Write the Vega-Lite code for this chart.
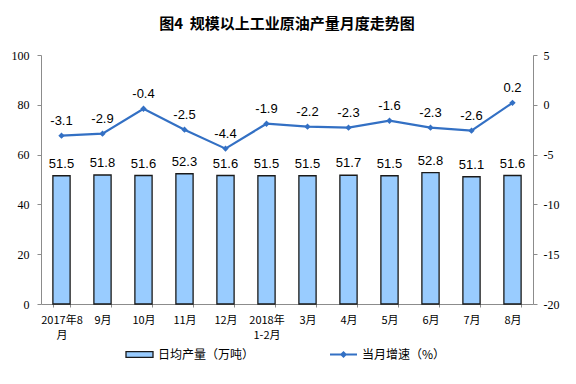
{
  "$schema": "https://vega.github.io/schema/vega-lite/v6.json",
  "width": 492,
  "height": 249,
  "autosize": {"type": "none"},
  "padding": {"left": 41, "top": 55, "right": 43, "bottom": 80},
  "background": "white",
  "title": {
    "text": "图4\u00a0\u00a0规模以上工业原油产量月度走势图",
    "font": "Noto Sans CJK SC",
    "fontSize": 15,
    "fontWeight": "bold",
    "color": "#000000",
    "anchor": "middle",
    "frame": "group",
    "offset": 17
  },
  "config": {
    "view": {"stroke": null},
    "axis": {"grid": false, "domainColor": "#8c8c8c", "tickColor": "#8c8c8c", "labelColor": "#000000"},
    "legend": {"labelFont": "Noto Sans CJK SC", "labelFontSize": 12, "labelColor": "#000000"}
  },
  "data": {
    "values": [
      {"month": "2017年8|月", "prod": 51.5, "growth": -3.1},
      {"month": "9月", "prod": 51.8, "growth": -2.9},
      {"month": "10月", "prod": 51.6, "growth": -0.4},
      {"month": "11月", "prod": 52.3, "growth": -2.5},
      {"month": "12月", "prod": 51.6, "growth": -4.4},
      {"month": "2018年|1-2月", "prod": 51.5, "growth": -1.9},
      {"month": "3月", "prod": 51.5, "growth": -2.2},
      {"month": "4月", "prod": 51.7, "growth": -2.3},
      {"month": "5月", "prod": 51.5, "growth": -1.6},
      {"month": "6月", "prod": 52.8, "growth": -2.3},
      {"month": "7月", "prod": 51.1, "growth": -2.6},
      {"month": "8月", "prod": 51.6, "growth": 0.2}
    ]
  },
  "encoding": {
    "x": {
      "field": "month",
      "type": "ordinal",
      "sort": null,
      "scale": {"paddingInner": 0.58, "paddingOuter": 0.29},
      "axis": {
        "title": null,
        "labelAngle": 0,
        "labelExpr": "split(datum.label, '|')",
        "labelFont": "Noto Sans CJK SC",
        "labelFontSize": 11,
        "labelLineHeight": 15,
        "ticks": true,
        "tickBand": "extent",
        "tickSize": 3,
        "labelPadding": 7
      }
    }
  },
  "layer": [
    {
      "encoding": {
        "y": {
          "field": "prod",
          "type": "quantitative",
          "scale": {"domain": [0, 100]},
          "axis": {
            "title": null,
            "values": [0, 20, 40, 60, 80, 100],
            "labelFont": "Liberation Serif",
            "labelFontSize": 12,
            "tickSize": 4,
            "labelPadding": 8
          }
        }
      },
      "layer": [
        {
          "mark": {"type": "bar", "stroke": "#1a1a1a", "strokeWidth": 1.3},
          "encoding": {
            "fill": {
              "datum": "日均产量（万吨）",
              "scale": {"range": ["#99CCFF"]},
              "legend": {
                "title": null,
                "orient": "none",
                "legendX": 84,
                "legendY": 285,
                "symbolType": "M-1,-0.22H1V0.22H-1Z",
                "symbolSize": 729,
                "symbolStrokeColor": "#1a1a1a",
                "symbolStrokeWidth": 1.3,
                "labelOffset": 4
              }
            }
          }
        },
        {
          "mark": {"type": "text", "font": "Liberation Sans", "fontSize": 13, "color": "#000000", "baseline": "alphabetic", "dy": -8},
          "encoding": {"text": {"field": "prod", "type": "nominal"}}
        }
      ]
    },
    {
      "encoding": {
        "y": {
          "field": "growth",
          "type": "quantitative",
          "scale": {"domain": [-20, 5]},
          "axis": {
            "orient": "right",
            "title": null,
            "values": [-20, -15, -10, -5, 0, 5],
            "labelExpr": "replace(datum.label, '\u2212', '-')",
            "labelFont": "Liberation Serif",
            "labelFontSize": 12,
            "tickSize": 4,
            "labelPadding": 6
          }
        }
      },
      "layer": [
        {
          "mark": {"type": "line", "strokeWidth": 2.2},
          "encoding": {
            "color": {
              "datum": "当月增速（%）",
              "scale": {"range": ["#3370C4"]},
              "legend": {
                "title": null,
                "orient": "none",
                "legendX": 288,
                "legendY": 285,
                "symbolType": "M-1,0H1M-0.16,0L0,-0.16L0.16,0L0,0.16Z",
                "symbolSize": 729,
                "symbolStrokeWidth": 2,
                "symbolFillColor": "#3370C4",
                "labelOffset": 4
              }
            }
          }
        },
        {
          "mark": {"type": "point", "shape": "diamond", "filled": true, "size": 40, "opacity": 1},
          "encoding": {"color": {"datum": "当月增速（%）"}}
        },
        {
          "mark": {"type": "text", "font": "Liberation Sans", "fontSize": 13, "color": "#000000", "baseline": "alphabetic", "dy": -11},
          "encoding": {"text": {"field": "growth", "type": "nominal"}}
        }
      ]
    }
  ],
  "resolve": {"scale": {"y": "independent"}}
}
